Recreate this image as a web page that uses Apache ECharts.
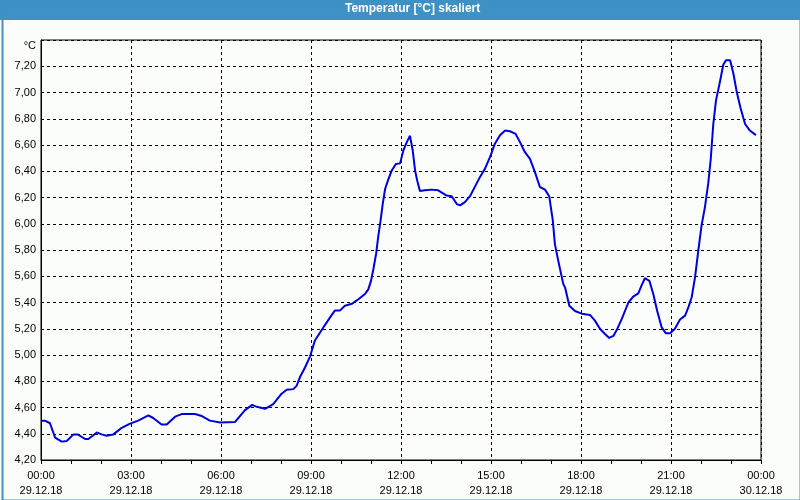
<!DOCTYPE html>
<html>
<head>
<meta charset="utf-8">
<script src="https://cdn.jsdelivr.net/npm/echarts@6/dist/echarts.min.js"></script>
<style>
html,body{margin:0;padding:0;background:#fbfdfb;}
#c{width:800px;height:500px;}
</style>
</head>
<body>
<div id="c"></div>
<script>
// Time in hours since 29.12.18 00:00
var hours = [0,0.13,0.30,0.47,0.69,0.86,1.08,1.22,1.47,1.58,1.86,2.02,2.19,2.41,2.69,2.97,3.24,3.58,3.74,4.02,4.19,4.47,4.69,5.13,5.36,5.63,5.97,6.47,6.80,7.04,7.19,7.47,7.74,8.02,8.19,8.41,8.52,8.63,8.80,8.97,9.13,9.41,9.63,9.80,9.97,10.13,10.36,10.58,10.80,10.91,11.00,11.08,11.17,11.24,11.32,11.39,11.47,11.58,11.69,11.83,11.97,12.08,12.19,12.30,12.39,12.47,12.54,12.63,12.80,13.02,13.24,13.52,13.69,13.86,13.97,14.13,14.30,14.47,14.63,14.80,14.97,15.13,15.30,15.47,15.63,15.82,15.97,16.13,16.30,16.47,16.63,16.80,16.94,17.06,17.13,17.24,17.41,17.47,17.61,17.80,18.02,18.30,18.47,18.63,18.80,18.94,19.08,19.19,19.36,19.58,19.74,19.91,20.02,20.13,20.28,20.41,20.54,20.69,20.83,20.97,21.13,21.30,21.47,21.58,21.69,21.80,21.91,22.02,22.13,22.24,22.32,22.41,22.50,22.63,22.74,22.83,22.97,23.08,23.19,23.32,23.47,23.63,23.83];
var temps = [4.50,4.50,4.48,4.37,4.34,4.345,4.395,4.395,4.36,4.36,4.41,4.395,4.385,4.395,4.445,4.477,4.50,4.54,4.52,4.47,4.47,4.53,4.55,4.55,4.535,4.50,4.485,4.49,4.58,4.62,4.605,4.59,4.625,4.705,4.735,4.74,4.765,4.83,4.905,4.99,5.11,5.21,5.285,5.34,5.34,5.375,5.39,5.425,5.465,5.50,5.565,5.655,5.77,5.90,6.025,6.15,6.265,6.34,6.405,6.455,6.46,6.56,6.62,6.67,6.56,6.405,6.33,6.25,6.255,6.26,6.255,6.215,6.21,6.15,6.14,6.165,6.21,6.285,6.355,6.42,6.51,6.61,6.675,6.71,6.705,6.685,6.62,6.545,6.495,6.39,6.28,6.26,6.21,6.025,5.845,5.72,5.54,5.515,5.375,5.335,5.315,5.305,5.26,5.20,5.16,5.13,5.145,5.19,5.275,5.40,5.445,5.47,5.53,5.585,5.565,5.465,5.335,5.21,5.165,5.165,5.20,5.27,5.30,5.365,5.44,5.59,5.795,5.99,6.125,6.305,6.48,6.76,6.94,7.08,7.21,7.245,7.245,7.145,7.005,6.88,6.76,6.71,6.675];
var xTickLabels = ['00:00\n29.12.18','03:00\n29.12.18','06:00\n29.12.18','09:00\n29.12.18','12:00\n29.12.18','15:00\n29.12.18','18:00\n29.12.18','21:00\n29.12.18','00:00\n30.12.18'];
var titleText = 'Temperatur [°C] skaliert';
var unitText = '°C';

var data = hours.map(function(h,i){return [h,temps[i]];});
var font = 'Liberation Sans';
var chart = echarts.init(document.getElementById('c'), null, {renderer:'canvas'});
chart.setOption({
  animation:false,
  backgroundColor:'#fbfdfb',
  grid:{left:41,right:39,top:40,bottom:40,show:true,borderColor:'#000',borderWidth:1,backgroundColor:'transparent'},
  xAxis:{
    type:'value',min:0,max:24,interval:3,
    axisLine:{show:true,lineStyle:{color:'#000',width:1}},
    axisTick:{show:true,length:4,lineStyle:{color:'#000'}},
    minorTick:{show:true,splitNumber:3,length:4,lineStyle:{color:'#000'}},
    splitLine:{show:true,lineStyle:{color:'#000',type:[3,3],width:1}},
    axisLabel:{margin:8,color:'#000',fontFamily:font,fontSize:11,lineHeight:15,
      formatter:function(v){return xTickLabels[Math.round(v/3)];}}
  },
  yAxis:{
    type:'value',min:4.2,max:7.4,interval:0.2,
    axisLine:{show:true,lineStyle:{color:'#000',width:1}},
    axisTick:{show:false},
    splitLine:{show:true,lineStyle:{color:'#000',type:[3,3],width:1}},
    axisLabel:{margin:5,color:'#000',fontFamily:font,fontSize:11,
      formatter:function(v){ if(Math.abs(v-7.4)<1e-6) return ''; return v.toFixed(2).replace('.',','); }}
  },
  graphic:[
    {type:'rect',left:0,top:0,shape:{width:800,height:20},style:{fill:'#3d91c4'},silent:true,z:10},
    {type:'rect',left:0,top:0,shape:{x:0.5,y:0.5,width:798,height:498},style:{fill:'none',stroke:'#3d91c4',lineWidth:2},silent:true,z:10},
    {type:'text',left:345,top:3,style:{text:titleText,fill:'#fff',font:'bold 12px "Liberation Sans"'},z:11},
    {type:'text',right:764,top:40,style:{text:unitText,fill:'#000',font:'11px "Liberation Sans"'},z:11}
  ],
  series:[{
    type:'line',data:data,showSymbol:false,
    lineStyle:{color:'#0000dd',width:2},
    itemStyle:{color:'#0000dd'}
  }]
});
</script>
</body>
</html>
